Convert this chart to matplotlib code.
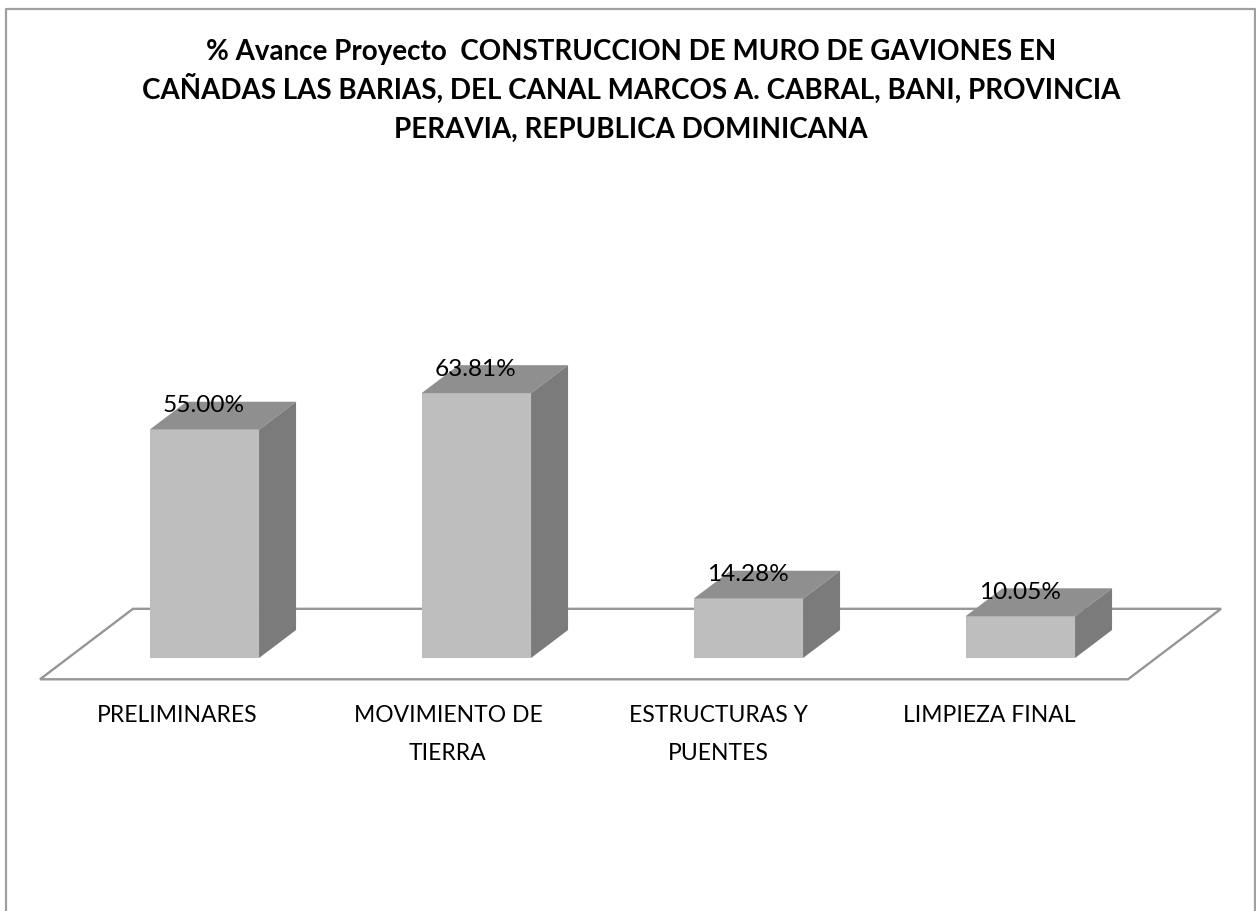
import matplotlib

matplotlib.use("Agg")
import matplotlib.pyplot as plt
from matplotlib.patches import Polygon

title_lines = [
    "% Avance Proyecto  CONSTRUCCION DE MURO DE GAVIONES EN",
    "CAÑADAS LAS BARIAS, DEL CANAL MARCOS A. CABRAL, BANI, PROVINCIA",
    "PERAVIA, REPUBLICA DOMINICANA",
]
categories = ["PRELIMINARES", "MOVIMIENTO DE\nTIERRA", "ESTRUCTURAS Y\nPUENTES", "LIMPIEZA FINAL"]
values = [55.00, 63.81, 14.28, 10.05]

W, H = 1256, 912
PX_X = 272.0  # pixels per category
PX_Y = 4.15  # pixels per percent
X0, Y0 = 204.3, 659.0  # pixel position of first bar centre / baseline

BAR_W = 109.5 / PX_X
DX = 37 / PX_X
DY = 28 / PX_Y

FRONT = "#bebebe"
TOP = "#8f8f8f"
SIDE = "#7b7b7b"
LINE = "#969696"
FRAME = "#a0a0a0"


def px_x(p: float) -> float:
    return (p - X0) / PX_X


def px_y(p: float) -> float:
    return (Y0 - p) / PX_Y


def main() -> None:
    plt.rcParams["font.family"] = ["Lato", "DejaVu Sans"]
    fig = plt.figure(figsize=(W / 100, H / 100), dpi=100)
    ax = fig.add_axes([0, 0, 1, 1])
    ax.set_xlim(px_x(0), px_x(W))
    ax.set_ylim(px_y(H), px_y(0))
    ax.axis("off")

    # chart frame, open at the bottom edge
    ymin = px_y(H)
    xa, xb, yt = px_x(6), px_x(1255), px_y(9.5)
    ax.plot([xa, xa, xb, xb], [ymin, yt, yt, ymin], color=FRAME, lw=1.6, zorder=1)

    # floor of the 3D box
    n = len(values)
    fl = px_x(40)
    fr = fl + n
    f_front = px_y(680.3)
    f_back = px_y(609.8)
    f_dx = 93 / PX_X
    ax.add_patch(
        Polygon(
            [(fl, f_front), (fl + f_dx, f_back), (fr + f_dx, f_back), (fr, f_front)],
            closed=True,
            facecolor="white",
            edgecolor=LINE,
            lw=1.7,
            zorder=2,
        )
    )

    for i, v in enumerate(values):
        l = i - BAR_W / 2
        r = i + BAR_W / 2
        ax.bar(i, v, width=BAR_W, color=FRONT, lw=0, zorder=3)
        ax.add_patch(
            Polygon([(l, v), (l + DX, v + DY), (r + DX, v + DY), (r, v)], facecolor=TOP, lw=0, zorder=3)
        )
        ax.add_patch(
            Polygon([(r, 0), (r + DX, DY), (r + DX, v + DY), (r, v)], facecolor=SIDE, lw=0, zorder=3)
        )
        ax.text(
            i - 0.002,
            v + DY - 9.5 / PX_Y,
            f"{v:.2f}%",
            ha="center",
            va="baseline",
            fontsize=17.6,
            color="black",
            zorder=4,
        )
        for j, part in enumerate(categories[i].split("\n")):
            ax.text(
                i * 0.9955 - 0.1,
                px_y(722.5 + j * 37.5),
                part,
                ha="center",
                va="baseline",
                fontsize=16.5,
                color="black",
                zorder=4,
            )

    for j, line in enumerate(title_lines):
        ax.text(
            px_x(631),
            px_y(60 + j * 39),
            line,
            ha="center",
            va="baseline",
            fontsize=19.95,
            fontweight="bold",
            color="black",
        )

    fig.savefig("out.png", dpi=100)


if __name__ == "__main__":
    main()
